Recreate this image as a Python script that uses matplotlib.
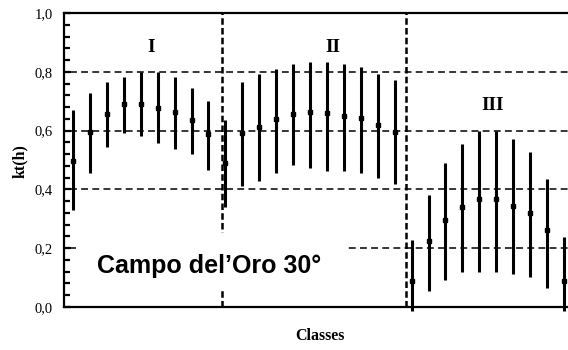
import matplotlib.pyplot as plt
import numpy as np
from matplotlib.patches import Rectangle

# kt(h) per classe: valore medio e estremi delle barre
class_index = np.arange(1, 31)
kt_mean = [0.498, 0.596, 0.655, 0.690, 0.690, 0.677, 0.663, 0.636, 0.587,
           0.489, 0.591, 0.613, 0.638, 0.655, 0.664, 0.659, 0.650, 0.642, 0.619, 0.595,
           0.088, 0.223, 0.296, 0.341, 0.366, 0.366, 0.345, 0.319, 0.262, 0.088]
kt_high = [0.670, 0.727, 0.764, 0.781, 0.798, 0.798, 0.781, 0.745, 0.700,
           0.636, 0.764, 0.791, 0.808, 0.827, 0.834, 0.834, 0.827, 0.817, 0.791, 0.772,
           0.228, 0.381, 0.491, 0.554, 0.600, 0.600, 0.571, 0.526, 0.435, 0.237]
kt_low = [0.330, 0.455, 0.545, 0.591, 0.582, 0.557, 0.537, 0.519, 0.466,
          0.340, 0.412, 0.429, 0.455, 0.483, 0.474, 0.464, 0.464, 0.455, 0.438, 0.418,
          -0.015, 0.056, 0.092, 0.118, 0.118, 0.118, 0.111, 0.103, 0.066, -0.015]

group_labels = ["I", "II", "III"]
group_label_x = [5.6, 16.35, 25.8]
group_label_y = [0.884, 0.884, 0.687]
group_bounds = [9.8, 20.67]

grid_levels = [0.8, 0.6, 0.4, 0.2]

y_ticks = [0.0, 0.2, 0.4, 0.6, 0.8, 1.0]
y_tick_labels = ["0,0", "0,2", "0,4", "0,6", "0,8", "1,0"]

SERIF = "Liberation Serif"
XMIN, XMAX = 0.468, 30.24
GRID_X0 = 0.82

fig = plt.figure(figsize=(5.68, 3.5), dpi=100)
ax = fig.add_axes([64 / 568, 43 / 350, 504 / 568, 294 / 350])

# linee tratteggiate di riferimento
for lvl in grid_levels:
    ax.plot([GRID_X0, XMAX], [lvl, lvl], color="black", lw=1.1,
            ls=(0, (4.5, 2.8)), zorder=1)
for xb in group_bounds:
    ax.plot([xb, xb], [0, 1], color="black", lw=1.8,
            ls=(0, (2.6, 1.3)), zorder=1)

# barre min-max e valore medio
ax.vlines(class_index, kt_low, kt_high, color="black", lw=2.2,
          zorder=3, clip_on=False)
ax.plot(class_index, kt_mean, ls="none", marker="s", ms=2.8,
        color="black", zorder=4)

for lab, gx, gy in zip(group_labels, group_label_x, group_label_y):
    ax.text(gx, gy, lab, ha="center", va="center", fontsize=14,
            fontweight="bold", family=SERIF)

# casella di testo bianca (copre le linee tratteggiate)
ax.add_patch(Rectangle((1.2, 0.058), 17.06 - 1.2, 0.252 - 0.058,
                       facecolor="white", edgecolor="none", zorder=2))
ax.text(2.4, 0.115, "Campo del\u2019Oro 30°", ha="left", va="baseline",
        fontsize=18, fontweight="bold", family="Liberation Sans", zorder=5)

ax.set_xlim(XMIN, XMAX)
ax.set_ylim(0, 1)
ax.set_xticks([])
ax.set_yticks(y_ticks)
ax.set_yticklabels(y_tick_labels, family=SERIF, fontsize=10.5)
ax.set_yticks(np.arange(0, 1.001, 0.04), minor=True)
ax.tick_params(axis="y", which="major", direction="in", length=5,
               width=1.6, pad=8)
ax.tick_params(axis="y", which="minor", direction="in", length=4, width=1.6)

ax.spines["right"].set_visible(False)
for side in ["left", "bottom", "top"]:
    ax.spines[side].set_linewidth(1.6)

fig.text(0.035, 0.54, "kt(h)", rotation=90, ha="center", va="center",
         fontsize=11.5, fontweight="bold", family=SERIF)
fig.text(0.563, 0.04, "Classes", ha="center", va="center",
         fontsize=11.5, fontweight="bold", family=SERIF)

fig.savefig("out.png", dpi=100)
